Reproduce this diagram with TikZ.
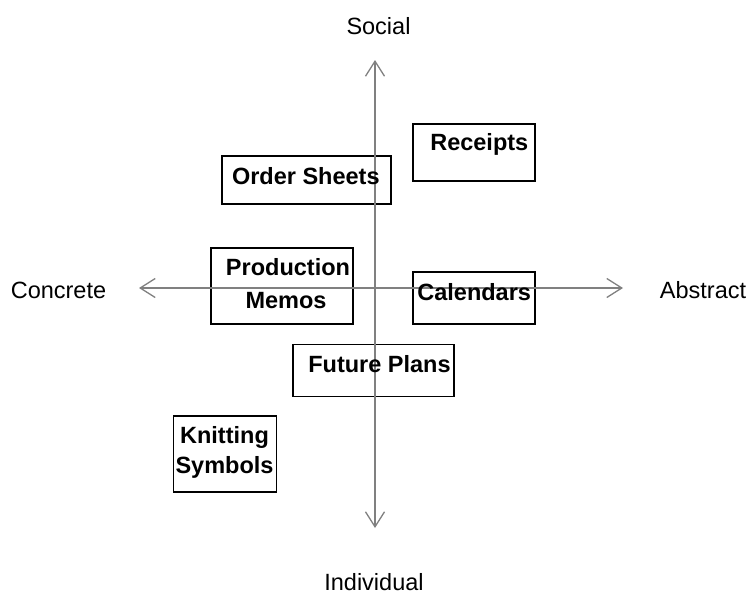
\documentclass[tikz,border=0pt]{standalone}
\usepackage{fontspec}
\setmainfont{Liberation Sans}
\usetikzlibrary{arrows.meta}
\begin{document}
\begin{tikzpicture}[x=1pt,y=-1pt,
  axis/.style={draw=black!50,line width=1.3pt,
    {Straight Barb[length=15pt,width=19pt]}-{Straight Barb[length=15pt,width=19pt]}},
  box/.style={draw=black,line width=1.8pt,inner sep=0pt,outer sep=0pt},
  lbl/.style={font=\fontsize{23.5}{30}\selectfont\bfseries,inner sep=0pt,align=center},
  axlbl/.style={font=\fontsize{23.5}{28}\selectfont,inner sep=0pt}]
\useasboundingbox (0,0) rectangle (749,592);
% axes
\coordinate (top) at (375,60);
\coordinate (bot) at (375,528);
\coordinate (lft) at (139,288);
\coordinate (rgt) at (623,288);
% boxes
\node[box,minimum width=169pt,minimum height=48pt] (bos) at (306.5,180) {};
\node[box,minimum width=122pt,minimum height=57pt] (brc) at (474,152.5) {};
\node[box,minimum width=142pt,minimum height=76pt] (bpm) at (282,286.3) {};
\node[box,minimum width=122pt,minimum height=52pt] (bcal) at (474,298.2) {};
\node[box,minimum width=161pt,minimum height=52pt] (bfp) at (373.7,370.5) {};
\node[box,minimum width=103pt,minimum height=76pt] (bks) at (225,454.2) {};
\draw[axis] (top) -- (bot);
\draw[axis] (lft) -- (rgt);
% labels
\node[lbl] (los) at (305.8,176) {Order Sheets};
\node[lbl] (lrc) at (479.3,144) {Receipts};
\node[lbl,font=\fontsize{23.5}{32.3}\selectfont\bfseries] (lpm) at (286,283.5) {\hspace*{4pt}Production\\Memos};
\node[lbl] (lcal) at (474.2,292.5) {Calendars};
\node[lbl] (lfp) at (379.5,364) {Future Plans};
\node[lbl] (lks) at (224.5,452.5) {Knitting\\Symbols};
\node[axlbl] (soc) at (378.5,26) {Social};
\node[axlbl] (ind) at (374,582) {Individual};
\node[axlbl] (con) at (58.5,290) {Concrete};
\node[axlbl] (abs) at (703,290) {Abstract};
\end{tikzpicture}
\end{document}
